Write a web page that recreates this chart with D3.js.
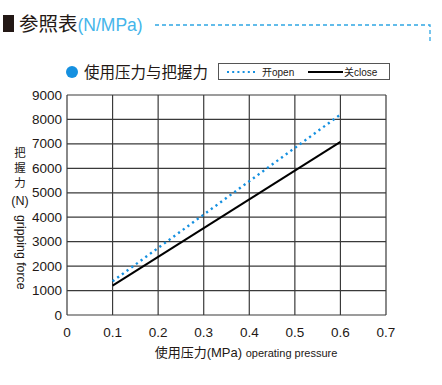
<!DOCTYPE html>
<html>
<head>
<meta charset="utf-8">
<script src="https://cdn.jsdelivr.net/npm/d3@7"></script>
<style>
  body { margin: 0; background: #fff; }
  text { font-family: "Liberation Sans", Arial, "Noto Sans CJK SC", sans-serif; }
  .cjk { font-family: "Noto Sans CJK SC", sans-serif; }
</style>
</head>
<body>
<div id="chart"></div>
<script>
// data
var pressure = [0.1, 0.6];
var openForce = [1380, 8200];
var closeForce = [1200, 7080];
var xTicks = [0, 0.1, 0.2, 0.3, 0.4, 0.5, 0.6, 0.7];
var yTicks = [0, 1000, 2000, 3000, 4000, 5000, 6000, 7000, 8000, 9000];

var W = 442, H = 385;
var margin = { top: 95, right: 56, bottom: 70, left: 67 },
    width = W - margin.left - margin.right,
    height = H - margin.top - margin.bottom;

var svg = d3.select("#chart")
    .append("svg")
    .attr("width", W)
    .attr("height", H);

// header
svg.append("rect").attr("x", 3).attr("y", 15).attr("width", 11).attr("height", 17).attr("fill", "#231815");
var head = svg.append("text").attr("x", 19).attr("y", 31).style("font-size", "19.5px");
head.append("tspan").attr("class", "cjk").attr("fill", "#231815").text("参照表");
head.append("tspan").attr("fill", "#45b5ea").style("font-size", "17.5px").text("(N/MPa)");
svg.append("path")
    .attr("d", "M155,25H430V44")
    .attr("fill", "none")
    .attr("stroke", "#2fa6e4")
    .attr("stroke-width", 1.3)
    .attr("stroke-dasharray", "4,3");

// legend row
svg.append("circle").attr("cx", 72).attr("cy", 72).attr("r", 6).attr("fill", "#1590e0");
svg.append("text").attr("class", "cjk").attr("x", 84).attr("y", 78)
    .style("font-size", "15.5px").attr("fill", "#231815").text("使用压力与把握力");
svg.append("rect").attr("x", 218.5).attr("y", 63.5).attr("width", 171).attr("height", 16)
    .attr("fill", "#fff").attr("stroke", "#555").attr("stroke-width", 1);
svg.append("line").attr("x1", 227).attr("x2", 256).attr("y1", 72).attr("y2", 72)
    .attr("stroke", "#1590e0").attr("stroke-width", 2.2).attr("stroke-dasharray", "2,3.2");
svg.append("text").attr("x", 262).attr("y", 76).style("font-size", "10px").attr("fill", "#231815")
    .html('<tspan class="cjk">开</tspan>open');
svg.append("line").attr("x1", 308).attr("x2", 343).attr("y1", 72).attr("y2", 72)
    .attr("stroke", "#000").attr("stroke-width", 2);
svg.append("text").attr("x", 344).attr("y", 76).style("font-size", "10px").attr("fill", "#231815")
    .html('<tspan class="cjk">关</tspan>close');

var g = svg.append("g").attr("transform", "translate(" + margin.left + "," + margin.top + ")");

var x = d3.scaleLinear().domain([0, 0.7]).range([0, width]);
var y = d3.scaleLinear().domain([0, 9000]).range([height, 0]);

// grid
g.selectAll(".vgrid").data(xTicks).enter().append("line")
    .attr("x1", function (d) { return x(d); })
    .attr("x2", function (d) { return x(d); })
    .attr("y1", 0).attr("y2", height)
    .attr("stroke", "#3a3a3a").attr("stroke-width", 1.2);
g.selectAll(".hgrid").data(yTicks).enter().append("line")
    .attr("x1", 0).attr("x2", width)
    .attr("y1", function (d) { return y(d); })
    .attr("y2", function (d) { return y(d); })
    .attr("stroke", "#3a3a3a").attr("stroke-width", 1.2);

// tick labels
g.selectAll(".ylab").data(yTicks).enter().append("text")
    .attr("x", -5).attr("y", function (d) { return y(d) + 4.5; })
    .attr("text-anchor", "end").style("font-size", "13.5px").attr("fill", "#231815")
    .text(function (d) { return d; });
g.selectAll(".xlab").data(xTicks).enter().append("text")
    .attr("x", function (d) { return x(d); }).attr("y", height + 22)
    .attr("text-anchor", "middle").style("font-size", "13.5px").attr("fill", "#231815")
    .text(function (d) { return d; });

// lines
var line = d3.line()
    .x(function (d) { return x(d[0]); })
    .y(function (d) { return y(d[1]); });

g.append("path")
    .datum(d3.zip(pressure, closeForce))
    .attr("d", line).attr("fill", "none")
    .attr("stroke", "#000").attr("stroke-width", 2);
g.append("path")
    .datum(d3.zip(pressure, openForce))
    .attr("d", line).attr("fill", "none")
    .attr("stroke", "#1590e0").attr("stroke-width", 2.4)
    .attr("stroke-dasharray", "2.2,3.6");

// x title
var xt = svg.append("text").attr("x", 246).attr("y", 357).attr("text-anchor", "middle")
    .attr("fill", "#231815").style("font-size", "13px");
xt.append("tspan").attr("class", "cjk").text("使用压力");
xt.append("tspan").text("(MPa) ");
xt.append("tspan").style("font-size", "11px").text("operating pressure");

// y title
["把", "握", "力"].forEach(function (c, i) {
    svg.append("text").attr("class", "cjk").attr("x", 20).attr("y", 157 + i * 15)
        .attr("text-anchor", "middle").style("font-size", "11.5px").attr("fill", "#231815").text(c);
});
svg.append("text").attr("x", 20).attr("y", 205).attr("text-anchor", "middle")
    .style("font-size", "12.5px").attr("fill", "#231815").text("(N)");
svg.append("text")
    .attr("transform", "translate(17,215) rotate(90)")
    .style("font-size", "12.3px").attr("fill", "#231815").text("gripping force");
</script>
</body>
</html>
